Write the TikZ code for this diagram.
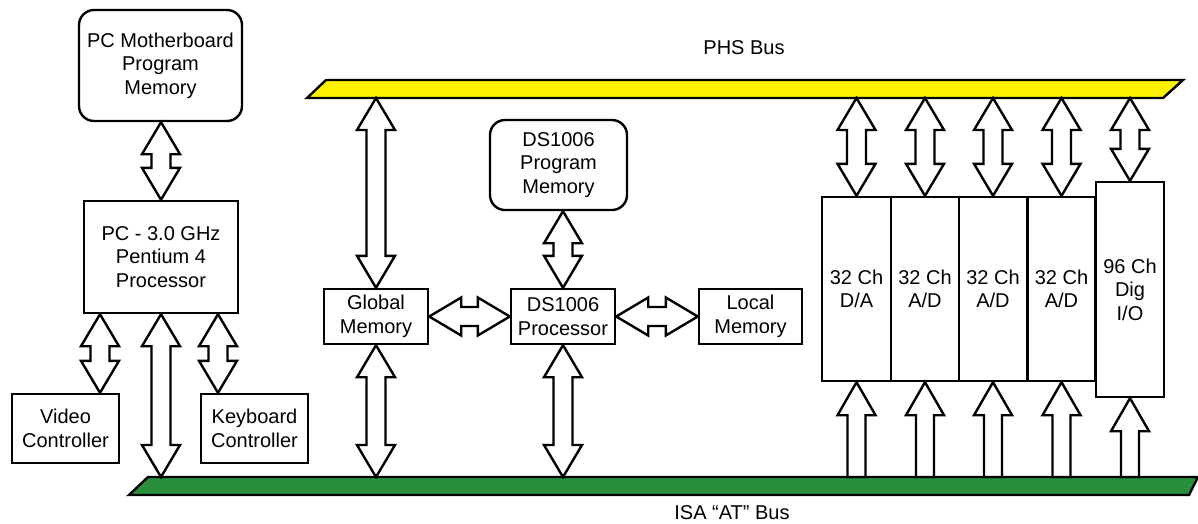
\documentclass[tikz,border=0pt]{standalone}
\usepackage{fontspec}
\setmainfont{Liberation Sans}
\definecolor{busyellow}{HTML}{FFF200}
\definecolor{busgreen}{HTML}{2A8F3C}
\newcommand{\vdarrow}[2]{% #1 top tip, #2 bottom tip
  \draw[arrowshape] (#1) -- ([shift={(19pt,-32pt)}]#1) -- ([shift={(9.5pt,-32pt)}]#1)
   -- ([shift={(9.5pt,32pt)}]#2) -- ([shift={(19pt,32pt)}]#2) -- (#2)
   -- ([shift={(-19pt,32pt)}]#2) -- ([shift={(-9.5pt,32pt)}]#2)
   -- ([shift={(-9.5pt,-32pt)}]#1) -- ([shift={(-19pt,-32pt)}]#1) -- cycle;}
\newcommand{\hdarrow}[2]{% #1 left tip, #2 right tip
  \draw[arrowshape] (#1) -- ([shift={(32pt,19pt)}]#1) -- ([shift={(32pt,9.5pt)}]#1)
   -- ([shift={(-32pt,9.5pt)}]#2) -- ([shift={(-32pt,19pt)}]#2) -- (#2)
   -- ([shift={(-32pt,-19pt)}]#2) -- ([shift={(-32pt,-9.5pt)}]#2)
   -- ([shift={(32pt,-9.5pt)}]#1) -- ([shift={(32pt,-19pt)}]#1) -- cycle;}
\newcommand{\uarrow}[2]{% #1 base on bus, #2 tip
  \draw[arrowshape] (#2) -- ([shift={(19pt,-33pt)}]#2) -- ([shift={(9pt,-33pt)}]#2)
   -- ([shift={(9pt,0pt)}]#1) -- ([shift={(-9pt,0pt)}]#1)
   -- ([shift={(-9pt,-33pt)}]#2) -- ([shift={(-19pt,-33pt)}]#2) -- cycle;}
\begin{document}
\begin{tikzpicture}[x=1pt,y=-1pt,
  every node/.style={font=\fontsize{20}{23.5}\selectfont, align=center, inner sep=0pt},
  box/.style={draw, line width=2.4pt, fill=white},
  rbox/.style={box, rounded corners=15pt},
  card/.style={box, minimum width=68pt, minimum height=184pt},
  arrowshape/.style={draw, fill=white, line width=2.4pt, line join=miter},
  bus/.style={draw, line width=2.4pt, line join=miter}]
\useasboundingbox (0,0) rectangle (1198,523);
% buses
\draw[bus, fill=busyellow] (307,98) -- (326,80) -- (1183,80) -- (1163,98) -- cycle;
\draw[bus, fill=busgreen] (129,495) -- (148,477) -- (1198,477) -- (1189,495) -- cycle;
\coordinate (phsB) at (0,98);
\coordinate (isaT) at (0,477);
\node (phslbl) at (744,48) {PHS Bus};
\node (isalbl) at (732,513) {ISA “AT” Bus};
% boxes
\node[rbox, minimum width=163pt, minimum height=111pt] (pcmem) at (160.5,65.5) {PC Motherboard\\Program\\Memory};
\node[box, minimum width=154pt, minimum height=112pt] (pcproc) at (161,257) {PC - 3.0 GHz\\Pentium 4\\Processor};
\node[box, minimum width=107pt, minimum height=69pt] (video) at (65.5,428.5) {Video\\Controller};
\node[box, minimum width=107pt, minimum height=69pt] (kbd) at (254.5,428.5) {Keyboard\\Controller};
\node[box, minimum width=104pt, minimum height=55pt] (gm) at (376,316.5) {Global\\Memory};
\node[box, minimum width=104pt, minimum height=55pt] (dsp) at (563,316.5) {DS1006\\Processor};
\node[box, minimum width=103pt, minimum height=55pt] (lm) at (750.5,316.5) {Local\\Memory};
\node[rbox, minimum width=137pt, minimum height=90pt] (dspm) at (558.5,165) {DS1006\\Program\\Memory};
\node[card, minimum width=69pt] (da) at (856.5,289) {32 Ch\\D/A};
\node[card] (ad1) at (925,289) {32 Ch\\A/D};
\node[card] (ad2) at (993,289) {32 Ch\\A/D};
\node[card] (ad3) at (1061.5,289) {32 Ch\\A/D};
\node[box, minimum width=68pt, minimum height=215pt] (dio) at (1130,289.5) {96 Ch\\Dig\\I/O};
% helper coordinates
\coordinate (vx) at (100,0);
\coordinate (kx) at (218,0);
\coordinate (pmx) at (161,0);
\coordinate (vbot) at (pcproc.south -| vx);
\coordinate (vtop) at (video.north -| vx);
\coordinate (kbot) at (pcproc.south -| kx);
\coordinate (ktop) at (kbd.north -| kx);
\coordinate (pcmb) at (pcmem.south -| pmx);
\coordinate (pcisa) at (pcproc.south |- isaT);
\coordinate (gmphs) at (gm.north |- phsB);
\coordinate (gmisa) at (gm.south |- isaT);
\coordinate (dspmb) at (dspm.south -| dsp.north);
\coordinate (dspisa) at (dsp.south |- isaT);
\foreach \c in {da,ad1,ad2,ad3,dio}{
  \coordinate (\c phs) at (\c.north |- phsB);
  \coordinate (\c isa) at (\c.south |- isaT);
}
% arrows
\vdarrow{pcmb}{pcproc.north}
\vdarrow{vbot}{vtop}
\vdarrow{kbot}{ktop}
\vdarrow{pcproc.south}{pcisa}
\vdarrow{gmphs}{gm.north}
\vdarrow{gm.south}{gmisa}
\vdarrow{dspmb}{dsp.north}
\vdarrow{dsp.south}{dspisa}
\hdarrow{gm.east}{dsp.west}
\hdarrow{dsp.east}{lm.west}
\foreach \c in {da,ad1,ad2,ad3,dio}{
  \vdarrow{\c phs}{\c.north}
  \uarrow{\c isa}{\c.south}
}
\end{tikzpicture}
\end{document}
